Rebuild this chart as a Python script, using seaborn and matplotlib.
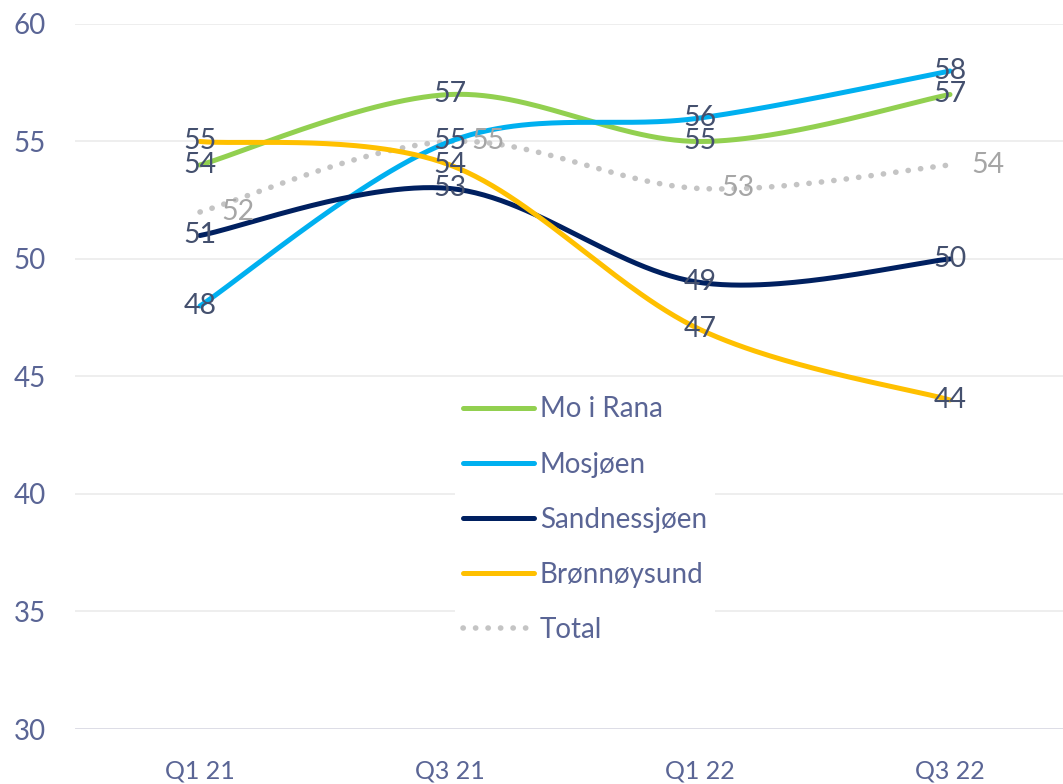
import numpy as np
import pandas as pd
import matplotlib
matplotlib.use("Agg")
import matplotlib.pyplot as plt
import seaborn as sns

# Data
quarters = ["Q1 21", "Q3 21", "Q1 22", "Q3 22"]
mo_i_rana = [54, 57, 55, 57]
mosjoen = [48, 55, 56, 58]
sandnessjoen = [51, 53, 49, 50]
bronnoysund = [55, 54, 47, 44]
total = [52, 55, 53, 54]

series_names = ["Mo i Rana", "Mosjøen", "Sandnessjøen", "Brønnøysund", "Total"]
series_values = [mo_i_rana, mosjoen, sandnessjoen, bronnoysund, total]
colors = ["#92D050", "#00B0F0", "#002060", "#FFC000", "#C4C4C4"]

TICK_COLOR = "#5A6595"
LABEL_COLOR = "#44506E"


def smooth(y, n=60):
    """Excel-like smoothed line (Catmull-Rom bezier through the points)."""
    y = np.asarray(y, dtype=float)
    x = np.arange(len(y), dtype=float)
    pts = np.column_stack([x, y])
    ext = np.vstack([pts[0], pts, pts[-1]])
    out = []
    t = np.linspace(0, 1, n)[:, None]
    for i in range(len(pts) - 1):
        p0, p1, p2, p3 = ext[i], ext[i + 1], ext[i + 2], ext[i + 3]
        c1 = p1 + (p2 - p0) / 6
        c2 = p2 - (p3 - p1) / 6
        seg = ((1 - t) ** 3) * p1 + 3 * ((1 - t) ** 2) * t * c1 + 3 * (1 - t) * t ** 2 * c2 + t ** 3 * p2
        out.append(seg if i == 0 else seg[1:])
    out = np.vstack(out)
    return out[:, 0], out[:, 1]


sns.set_theme(style="white")
plt.rcParams["font.family"] = ["Lato", "DejaVu Sans"]

fig = plt.figure(figsize=(10.63, 7.84), dpi=100)
ax = fig.add_axes([75 / 1063, 1 - 729 / 784, 1000 / 1063, (729 - 24) / 784])

for name, vals, col in zip(series_names, series_values, colors):
    xs, ys = smooth(vals)
    df = pd.DataFrame({"x": xs, "y": ys})
    if name == "Total":
        sns.lineplot(data=df, x="x", y="y", ax=ax, color=col, lw=4,
                     linestyle=(0, (0.05, 2.2)), solid_capstyle="round",
                     dash_capstyle="round", label=name, sort=False, zorder=2)
    else:
        sns.lineplot(data=df, x="x", y="y", ax=ax, color=col, lw=3.6,
                     solid_capstyle="round", label=name, sort=False, zorder=3)

# data labels (Total sits to the right of its points)
for name, vals in zip(series_names, series_values):
    for i, v in enumerate(vals):
        if name == "Total":
            ax.text(i + 0.15, v, f"{v}", ha="center", va="center",
                    fontsize=20.5, color="#A6A6A6", zorder=5)
        else:
            ax.text(i, v, f"{v}", ha="center", va="center",
                    fontsize=20.5, color=LABEL_COLOR, zorder=5)

ax.set_xlim(-0.5, 3.5)
ax.set_ylim(30, 60)
ax.set_yticks(range(30, 61, 5))
ax.set_xticks(range(len(quarters)))
ax.set_xticklabels(quarters)
ax.set_xlabel("")
ax.set_ylabel("")
for y in range(35, 61, 5):
    ax.axhline(y, color="#EBEBEB", lw=1.2, zorder=0)
ax.axhline(30, color="#D9D9E3", lw=2, zorder=1)
sns.despine(ax=ax, left=True, bottom=True)
ax.tick_params(axis="y", labelsize=20, colors=TICK_COLOR, length=0, pad=21)
ax.tick_params(axis="x", labelsize=18, colors=TICK_COLOR, length=0, pad=22)

leg = ax.legend(loc="upper left", bbox_to_anchor=(455 / 1063, 1 - 388 / 784),
                bbox_transform=fig.transFigure, fontsize=20, frameon=True,
                facecolor="white", edgecolor="none", framealpha=1,
                handlelength=2.55, handletextpad=0.2, labelspacing=1.05,
                borderpad=0.3, borderaxespad=0)
for txt in leg.get_texts():
    txt.set_color(TICK_COLOR)
leg.set_zorder(4)

fig.savefig("out.png", dpi=100)
